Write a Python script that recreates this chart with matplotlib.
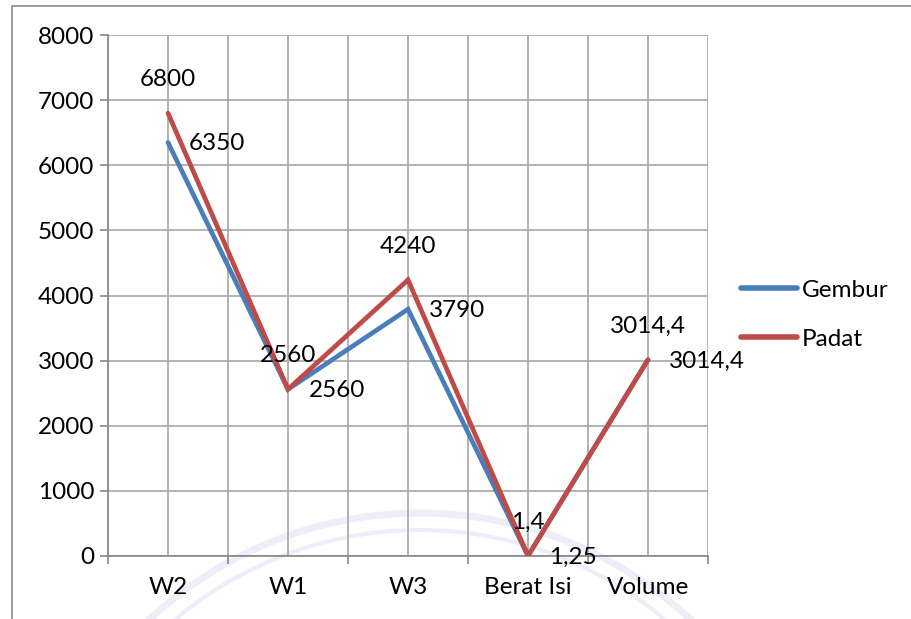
#!/usr/bin/env python3
"""Line chart of Gembur vs Padat soil measurements."""

import matplotlib
matplotlib.use("Agg")
import matplotlib.pyplot as plt
import numpy as np
from matplotlib.patches import Arc, Rectangle

categories = ["W2", "W1", "W3", "Berat Isi", "Volume"]
gembur = [6350, 2560, 3790, 1.25, 3014.4]
padat = [6800, 2560, 4240, 1.4, 3014.4]
yticks = [0, 1000, 2000, 3000, 4000, 5000, 6000, 7000, 8000]

BLUE = "#4A7EBB"
RED = "#BE4B48"
GRID = "#A6A6A6"
AXIS = "#868686"
FS = 17.5


def fmt(v):
    """Format with a decimal comma like the source."""
    s = f"{v:g}"
    return s.replace(".", ",")


def main():
    plt.rcParams["font.family"] = ["Lato", "DejaVu Sans"]
    fig = plt.figure(figsize=(9.11, 6.19), dpi=100)

    # faint watermark arcs behind the chart
    bg = fig.add_axes([0, 0, 1, 1], zorder=-1)
    bg.set_xlim(0, 911)
    bg.set_ylim(619, 0)
    bg.axis("off")
    for r, w in [(397, 5), (380, 3)]:
        bg.add_patch(Arc((420, 910), 2 * r, 2 * r, theta1=180, theta2=360,
                         color="#EEEEFA", lw=w))

    ax = fig.add_axes([108 / 911, 1 - 556 / 619, 600 / 911, 521 / 619])
    ax.patch.set_alpha(0)

    x = np.arange(len(categories))
    l1, = ax.plot(x, gembur, color=BLUE, lw=3.4, solid_joinstyle="miter",
                  solid_capstyle="round", zorder=3, label="Gembur")
    l2, = ax.plot(x, padat, color=RED, lw=3.4, solid_joinstyle="miter",
                  solid_capstyle="round", zorder=4, label="Padat")

    for xi, g, p in zip(x, gembur, padat):
        ax.annotate(fmt(p), (xi, p), xytext=(0, 24), textcoords="offset points",
                    ha="center", va="center", fontsize=FS, zorder=5)
        ax.annotate(fmt(g), (xi, g), xytext=(15, -1), textcoords="offset points",
                    ha="left", va="center", fontsize=FS, zorder=5)

    ax.set_xlim(-0.5, len(categories) - 0.5)
    ax.set_ylim(0, 8000)
    ax.set_yticks(yticks)
    ax.set_yticklabels([str(t) for t in yticks], fontsize=FS)
    ax.set_xticks(x)
    ax.set_xticklabels(categories, fontsize=FS)
    ax.set_xticks(np.arange(-0.5, len(categories)), minor=True)

    ax.tick_params(axis="x", which="major", length=0, pad=15)
    ax.tick_params(axis="x", which="minor", length=6, width=1.2, color=AXIS)
    ax.tick_params(axis="y", length=6, width=1.2, color=AXIS, pad=4)

    # gridlines at category centers and boundaries
    for gx in np.arange(-0.5, len(categories), 0.5):
        ax.axvline(gx, color=GRID, lw=1.2, zorder=1)
    ax.grid(axis="y", color=GRID, lw=1.2, zorder=1)
    ax.set_axisbelow(True)

    for side in ["top", "right"]:
        ax.spines[side].set_visible(False)
    ax.spines["left"].set_color(AXIS)
    ax.spines["bottom"].set_color(AXIS)
    ax.spines["left"].set_linewidth(1.2)
    ax.spines["bottom"].set_linewidth(1.2)

    leg = fig.legend(handles=[l1, l2], loc="upper left",
                     bbox_to_anchor=(736 / 911, 1 - 275 / 619), frameon=False,
                     fontsize=FS, handlelength=2.3, handletextpad=0.2,
                     labelspacing=1.15, borderaxespad=0, borderpad=0.2)
    for line in leg.get_lines():
        line.set_linewidth(4)

    # outer chart frame
    fig.patches.append(Rectangle((12 / 911, -0.1), 1.1, 1 - 6 / 619 + 0.1,
                                 transform=fig.transFigure, fill=False,
                                 edgecolor="#8C8C8C", lw=1.2))

    fig.savefig("out.png", dpi=100)


if __name__ == "__main__":
    main()
